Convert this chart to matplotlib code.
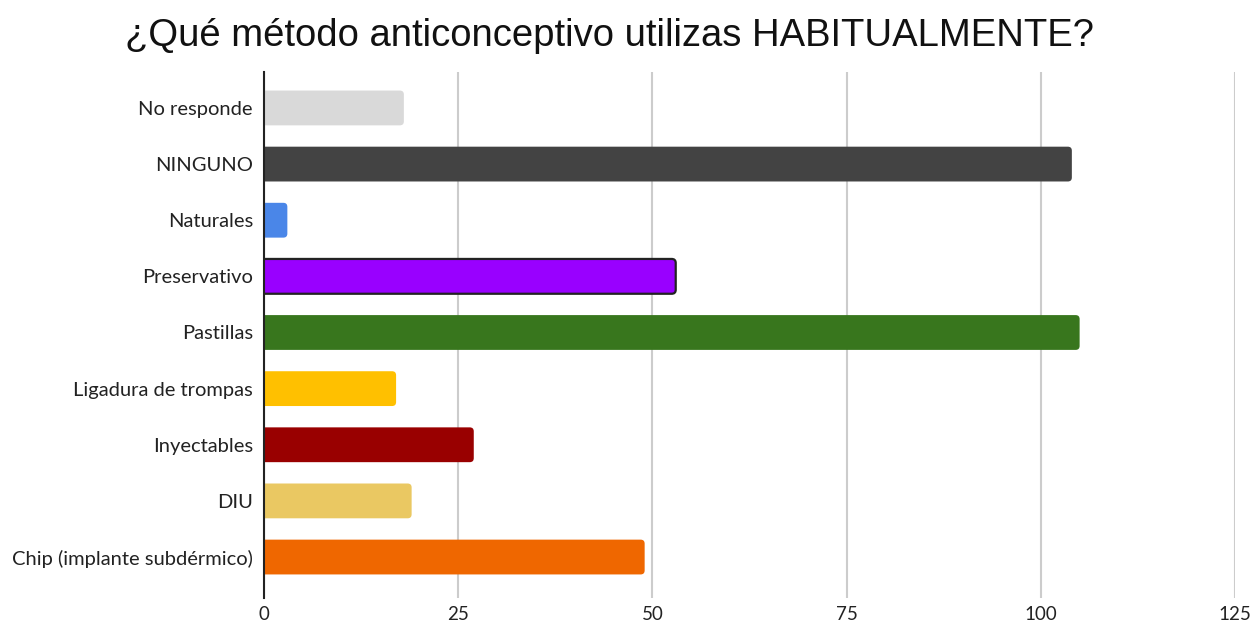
import matplotlib
matplotlib.use("Agg")
import matplotlib.pyplot as plt
from matplotlib.patches import FancyBboxPatch

categories = ["No responde", "NINGUNO", "Naturales", "Preservativo", "Pastillas",
              "Ligadura de trompas", "Inyectables", "DIU", "Chip (implante subdérmico)"]
values = [18, 104, 3, 53, 105, 17, 27, 19, 49]
colors = ["#d9d9d9", "#434343", "#4a86e8", "#9900ff", "#38761d",
          "#ffc000", "#990000", "#eac862", "#ef6700"]
xticks = [0, 25, 50, 75, 100, 125]
title = "¿Qué método anticonceptivo utilizas HABITUALMENTE?"

fig = plt.figure(figsize=(12.52, 6.23), dpi=100)
ax = fig.add_axes([0.2109, 0.0401, 0.7755, 0.8443])

ypos = list(range(len(categories)))
ax.set_ylim(len(categories) - 1 + 0.73, -0.64)
ax.set_xlim(0, 125)
bars = ax.barh(ypos, values, height=0.62, color=colors, zorder=3)

# replace rectangles with right-rounded boxes (left side clipped at axis)
fig.canvas.draw()
bbox = ax.get_window_extent()
px_per_x = bbox.width / 125.0
px_per_y = bbox.height / (len(categories) - 1 + 0.73 + 0.64)
r_px = 4.0
rx = r_px / px_per_x
aspect = px_per_x / px_per_y
for i, b in enumerate(bars):
    x0, y0 = b.get_x(), b.get_y()
    w, h = b.get_width(), b.get_height()
    ec = "#222222" if categories[i] == "Preservativo" else "none"
    lw = 1.6 if categories[i] == "Preservativo" else 0
    p = FancyBboxPatch((x0 - rx, y0), w + rx, h,
                       boxstyle=f"round,pad=0,rounding_size={rx}",
                       mutation_aspect=aspect,
                       facecolor=b.get_facecolor(), edgecolor=ec, linewidth=lw,
                       zorder=3)
    ax.add_patch(p)
    b.set_visible(False)

ax.set_xticks(xticks)
ax.set_xticklabels([str(t) for t in xticks], fontsize=13.5, family="Lato", color="#222222")
ax.set_yticks(ypos)
ax.set_yticklabels(categories, fontsize=14.5, family="Lato", color="#222222")
ax.tick_params(axis="y", length=0, pad=8)
ax.tick_params(axis="x", length=0, pad=6)
ax.grid(axis="x", color="#cccccc", linewidth=1.5, zorder=0)
for s in ["top", "right", "bottom"]:
    ax.spines[s].set_visible(False)
ax.spines["left"].set_color("#222222")
ax.spines["left"].set_linewidth(1.5)
ax.spines["left"].set_zorder(4)

fig.text(0.487, 0.942, title, ha="center", va="center", fontsize=27.5,
         family="Liberation Sans", color="#111111")

fig.savefig("out.png", dpi=100)
